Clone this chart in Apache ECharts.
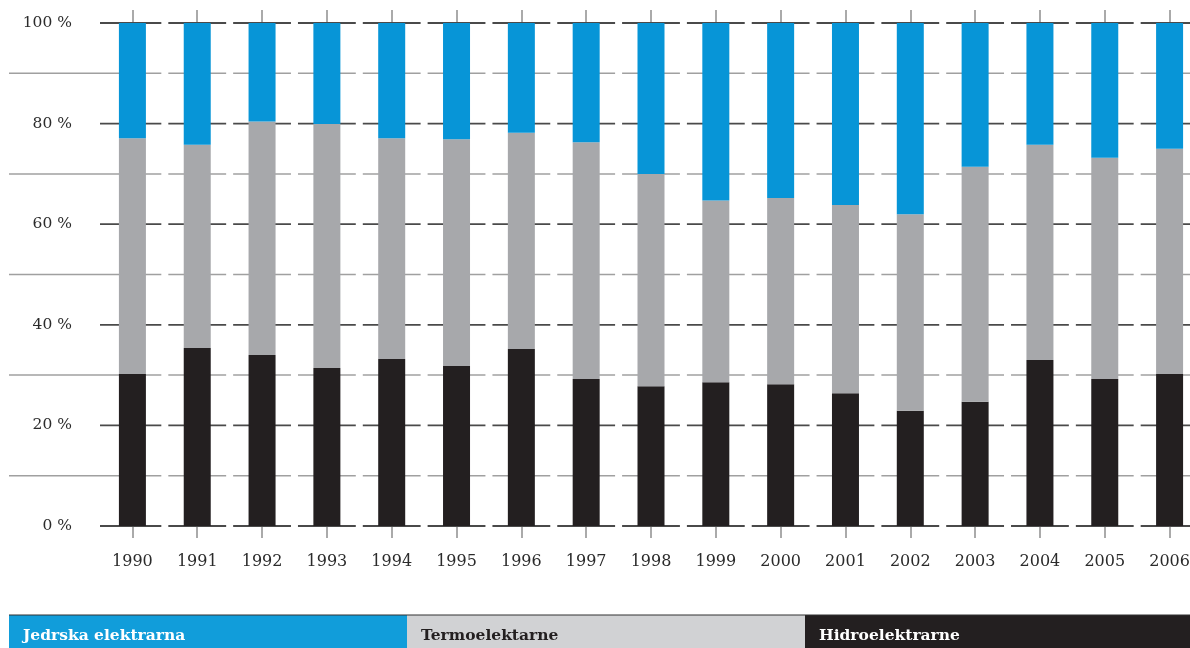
<!DOCTYPE html>
<html>
<head>
<meta charset="utf-8">
<script src="https://cdn.jsdelivr.net/npm/echarts@6/dist/echarts.min.js"></script>
<style>
  html, body { margin: 0; padding: 0; background: #ffffff; overflow: hidden; }
  #chart { width: 1202px; height: 648px; }
</style>
</head>
<body>
<div id="chart"></div>
<script>
// Share of electricity production by source, 1990–2006 (percent)
const years = ['1990','1991','1992','1993','1994','1995','1996','1997','1998','1999','2000','2001','2002','2003','2004','2005','2006'];
const hidro = [30.2, 35.4, 34.0, 31.4, 33.2, 31.8, 35.2, 29.2, 27.8, 28.6, 28.2, 26.4, 22.9, 24.7, 33.0, 29.2, 30.2];
const termo = [46.9, 40.4, 46.4, 48.5, 43.9, 45.1, 43.0, 47.1, 42.2, 36.1, 37.0, 37.4, 39.1, 46.7, 42.8, 44.0, 44.8];
const jedrska = [22.9, 24.2, 19.6, 20.1, 22.9, 23.1, 21.8, 23.7, 30.0, 35.3, 34.8, 36.2, 38.0, 28.6, 24.2, 26.8, 25.0];
const seriesNames = ['Jedrska elektrarna', 'Termoelektarne', 'Hidroelektrarne'];
const gridLevels = [0, 10, 20, 30, 40, 50, 60, 70, 80, 90, 100];

const BLUE = '#0795d7';
const GREY = '#a7a8ab';
const DARK = '#231f20';
const FONT = 'DejaVu Serif';

const chart = echarts.init(document.getElementById('chart'), null, { renderer: 'canvas' });

// Horizontal guide lines broken into one segment per year column
function renderGuides(params, api) {
  const i = api.value(0);
  const bw = api.size([1, 0])[0];
  const cs = params.coordSys;
  const children = [];
  gridLevels.forEach(function (lv) {
    const p = api.coord([i, lv]);
    const major = lv % 20 === 0;
    let x1 = p[0] - bw / 2 + 3.5;
    const x2 = p[0] + bw / 2 - 3.5;
    if (i === 0) x1 = major ? cs.x : cs.x - 91;
    children.push({
      type: 'line',
      shape: { x1: x1, y1: p[1], x2: x2, y2: p[1] },
      style: { stroke: major ? '#4a4a4a' : '#a0a0a0', lineWidth: major ? 1.8 : 1.5 }
    });
  });
  return { type: 'group', children: children };
}

const legendW = 398;
const legendColors = [
  { fill: '#119dda', text: '#ffffff' },
  { fill: '#d1d2d4', text: '#231f20' },
  { fill: DARK, text: '#ffffff' }
];
const legendGraphics = [];
seriesNames.forEach(function (name, k) {
  legendGraphics.push({
    type: 'rect', left: 9 + k * legendW, top: 615,
    shape: { width: legendW + (k === 2 ? 20 : 0), height: 40 },
    style: { fill: legendColors[k].fill }
  });
  legendGraphics.push({
    type: 'text', left: 9 + k * legendW + 14, top: 628,
    style: { text: name, fill: legendColors[k].text, font: 'bold 15.5px "' + FONT + '"' }
  });
});
legendGraphics.push({
  type: 'rect', left: 9, top: 614.5,
  shape: { width: 1200, height: 1 },
  style: { fill: '#333333' }
});

const option = {
  animation: false,
  backgroundColor: '#ffffff',
  grid: { left: 100, top: 23, right: 0, height: 503 },
  xAxis: [
    {
      type: 'category', data: years, position: 'bottom',
      axisLine: { show: false },
      axisTick: { show: true, alignWithLabel: true, length: 12, lineStyle: { color: '#aaaaaa', width: 2 } },
      axisLabel: { margin: 28, fontFamily: FONT, fontSize: 16, color: '#2b2b2b' }
    },
    {
      type: 'category', data: years, position: 'top',
      axisLine: { show: false },
      axisTick: { show: true, alignWithLabel: true, length: 13, lineStyle: { color: '#aaaaaa', width: 2 } },
      axisLabel: { show: false }
    }
  ],
  yAxis: {
    type: 'value', min: 0, max: 100, interval: 10,
    axisLine: { show: false }, axisTick: { show: false }, splitLine: { show: false },
    axisLabel: {
      margin: 28, fontFamily: FONT, fontSize: 15.5, color: '#2b2b2b',
      formatter: function (v) { return v % 20 === 0 ? v + ' %' : ''; }
    }
  },
  graphic: legendGraphics,
  series: [
    {
      type: 'custom', name: 'guides', renderItem: renderGuides,
      data: years.map(function (y, i) { return [i]; }),
      z: 1, silent: true, clip: false
    },
    {
      type: 'bar', name: seriesNames[2], stack: 'all', data: hidro,
      barWidth: 27, itemStyle: { color: DARK }, z: 3
    },
    {
      type: 'bar', name: seriesNames[1], stack: 'all', data: termo,
      barWidth: 27, itemStyle: { color: GREY }, z: 3
    },
    {
      type: 'bar', name: seriesNames[0], stack: 'all', data: jedrska,
      barWidth: 27, itemStyle: { color: BLUE }, z: 3
    }
  ]
};
chart.setOption(option);
</script>
</body>
</html>
